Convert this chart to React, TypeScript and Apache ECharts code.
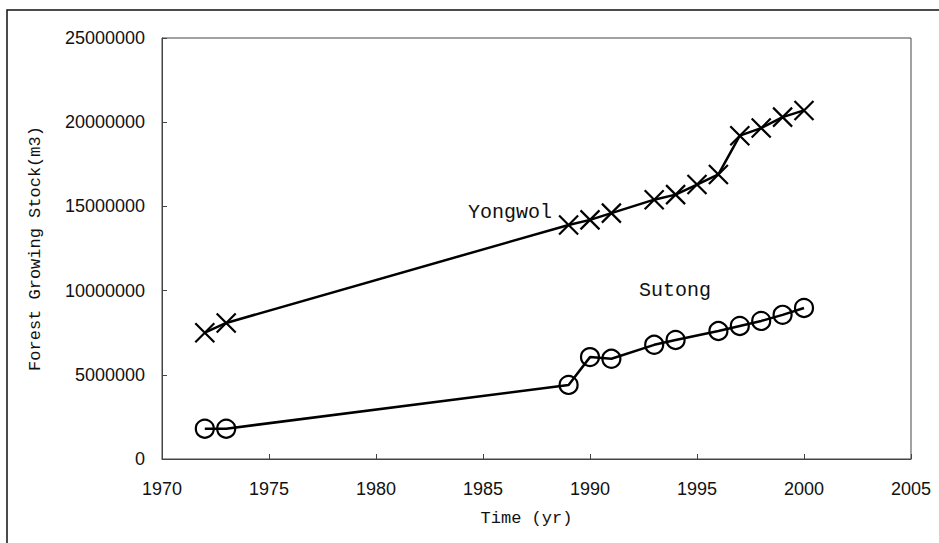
import React, { useEffect, useRef } from "react";
import * as echarts from "echarts";

const yongwolYears = [1972, 1973, 1989, 1990, 1991, 1993, 1994, 1995, 1996, 1997, 1998, 1999, 2000];
const yongwolValues = [7500000, 8080000, 13900000, 14200000, 14600000, 15400000, 15700000, 16300000, 16900000, 19200000, 19650000, 20300000, 20700000];

const sutongYears = [1972, 1973, 1989, 1990, 1991, 1993, 1994, 1996, 1997, 1998, 1999, 2000];
const sutongValues = [1800000, 1800000, 4400000, 6050000, 5950000, 6780000, 7070000, 7600000, 7900000, 8200000, 8560000, 8970000];

const xTicks = { min: 1970, max: 2005, interval: 5 };
const yTicks = { min: 0, max: 25000000, interval: 5000000 };

const xName = "Time (yr)";
const yName = "Forest Growing Stock(m3)";
const seriesNames = ["Yongwol", "Sutong"];

export default function App() {
  const ref = useRef<HTMLDivElement>(null);
  useEffect(() => {
    if (!ref.current) return;
    const chart = echarts.init(ref.current, null, { renderer: "svg" });
    const axisColor = "#444";
    const labelFont = "'Liberation Sans', Arial, sans-serif";
    const monoFont = "'Liberation Mono', 'DejaVu Sans Mono', monospace";
    chart.setOption({
      animation: false,
      backgroundColor: "#fff",
      grid: {
        left: 162,
        right: 28,
        top: 38,
        bottom: 84,
        show: true,
        borderColor: axisColor,
        borderWidth: 1,
        backgroundColor: "transparent",
      },
      xAxis: {
        type: "value",
        min: xTicks.min,
        max: xTicks.max,
        interval: xTicks.interval,
        name: xName,
        nameLocation: "middle",
        nameGap: 51,
        nameTextStyle: { fontFamily: monoFont, fontSize: 17, color: "#111", padding: [0, 20, 0, 0] },
        axisLine: { show: true, lineStyle: { color: axisColor, width: 1 } },
        axisTick: { show: true, inside: true, length: 5, lineStyle: { color: axisColor } },
        axisLabel: {
          margin: 21,
          fontFamily: labelFont,
          fontSize: 18,
          color: "#111",
          formatter: (v: number) => String(v),
        },
        splitLine: { show: false },
      },
      yAxis: {
        type: "value",
        min: yTicks.min,
        max: yTicks.max,
        interval: yTicks.interval,
        name: yName,
        nameLocation: "middle",
        nameGap: 118,
        nameTextStyle: { fontFamily: monoFont, fontSize: 17, color: "#111" },
        axisLine: { show: true, lineStyle: { color: axisColor, width: 1 } },
        axisTick: { show: true, inside: true, length: 5, lineStyle: { color: axisColor } },
        axisLabel: {
          margin: 17,
          fontFamily: labelFont,
          fontSize: 18,
          color: "#111",
          formatter: (v: number) => String(v),
        },
        splitLine: { show: false },
      },
      series: [
        {
          name: seriesNames[0],
          type: "line",
          data: yongwolYears.map((y, i) => [y, yongwolValues[i]]),
          symbol: "path://M0,0L10,10M10,0L0,10",
          symbolSize: 19,
          itemStyle: { color: "rgba(0,0,0,0)", borderColor: "#000", borderWidth: 2.2 },
          lineStyle: { color: "#000", width: 2.5 },
          z: 3,
        },
        {
          name: seriesNames[1],
          type: "line",
          data: sutongYears.map((y, i) => [y, sutongValues[i]]),
          symbol: "circle",
          symbolSize: 18,
          itemStyle: { color: "rgba(0,0,0,0)", borderColor: "#000", borderWidth: 2.2 },
          lineStyle: { color: "#000", width: 2.5 },
          z: 3,
        },
      ],
      graphic: [
        {
          type: "rect",
          shape: { x: 7, y: 10, width: 960, height: 560 },
          style: { fill: "none", stroke: "#111", lineWidth: 1.5 },
          silent: true,
        },
        {
          type: "text",
          x: 510,
          y: 212,
          style: {
            text: seriesNames[0],
            fontFamily: monoFont,
            fontSize: 20,
            fill: "#111",
            align: "center",
            verticalAlign: "middle",
          },
        },
        {
          type: "text",
          x: 675,
          y: 290,
          style: {
            text: seriesNames[1],
            fontFamily: monoFont,
            fontSize: 20,
            fill: "#111",
            align: "center",
            verticalAlign: "middle",
          },
        },
      ],
    });
    return () => chart.dispose();
  }, []);
  return (
    <div
      ref={ref}
      style={{ position: "fixed", left: 0, top: 0, width: 939, height: 543, background: "#fff" }}
    />
  );
}
